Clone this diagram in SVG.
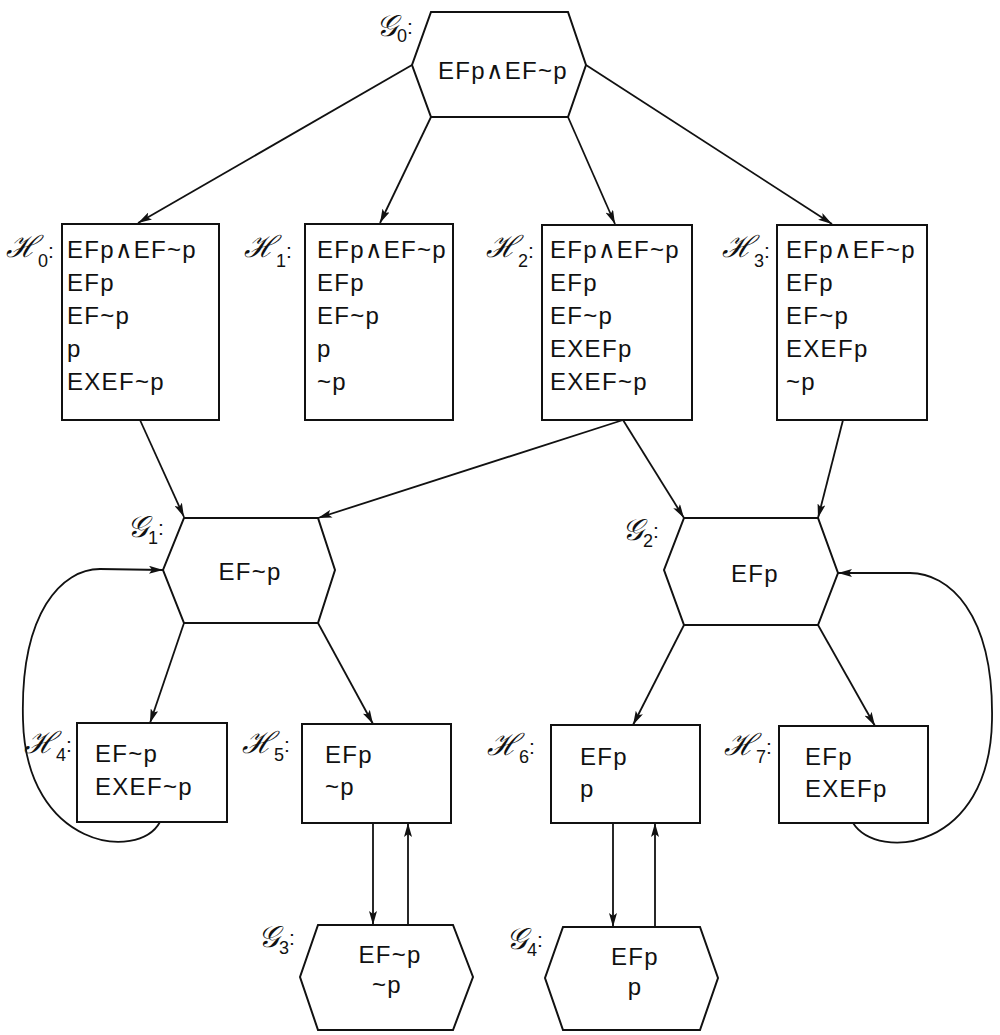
<svg xmlns="http://www.w3.org/2000/svg" width="1000" height="1035" viewBox="0 0 1000 1035">
  <style>
    .shape { fill: #fff; stroke: #111; stroke-width: 2; }
    .edge { fill: none; stroke: #111; stroke-width: 1.8; }
    .t { font-family: "Liberation Sans", "DejaVu Sans", sans-serif; font-size: 24px; fill: #111; letter-spacing: 1.3px; }
    .c { text-anchor: middle; }
    .lab { font-family: "DejaVu Serif", "Liberation Serif", serif; font-style: italic; font-size: 30px; fill: #111; }
    .sub { font-family: "Liberation Sans", sans-serif; font-style: normal; font-size: 18px; }
    .col { font-family: "Liberation Sans", sans-serif; font-style: normal; font-size: 21px; }
  </style>
  <defs>
    <marker id="arr" viewBox="0 0 14 8" refX="14" refY="4" markerWidth="14" markerHeight="8" markerUnits="userSpaceOnUse" orient="auto">
      <path d="M0,0 L14,4 L0,8 L3,4 Z" fill="#111"/>
    </marker>
  </defs>

  <!-- connectors -->
  <g id="edges" class="edges">
    <path class="edge" marker-end="url(#arr)" d="M412,65 L138,223"/>
    <path class="edge" marker-end="url(#arr)" d="M431,117 L380,223"/>
    <path class="edge" marker-end="url(#arr)" d="M568,117 L615,224"/>
    <path class="edge" marker-end="url(#arr)" d="M586,65 L832,224"/>
    <path class="edge" marker-end="url(#arr)" d="M140,420 L184,517"/>
    <path class="edge" marker-end="url(#arr)" d="M623,420 L318,518"/>
    <path class="edge" marker-end="url(#arr)" d="M623,420 L684,518"/>
    <path class="edge" marker-end="url(#arr)" d="M843,420 L818,518"/>
    <path class="edge" marker-end="url(#arr)" d="M184,623 L150,723"/>
    <path class="edge" marker-end="url(#arr)" d="M318,623 L373,724"/>
    <path class="edge" marker-end="url(#arr)" d="M684,625 L633,725"/>
    <path class="edge" marker-end="url(#arr)" d="M818,625 L875,726"/>
    <path class="edge" marker-end="url(#arr)" d="M160,822 C138,862 26,848 23,720 C20,612 62,569 100,569 L163,570"/>
    <path class="edge" marker-end="url(#arr)" d="M853,823 C878,862 990,850 992,720 C994,612 948,573 910,573 L838,573"/>
    <path class="edge" marker-end="url(#arr)" d="M373,823 L373,925"/>
    <path class="edge" marker-end="url(#arr)" d="M408,925 L408,823"/>
    <path class="edge" marker-end="url(#arr)" d="M613,823 L613,927"/>
    <path class="edge" marker-end="url(#arr)" d="M655,927 L655,823"/>
  </g>

  <!-- G0 -->
  <g id="G0">
    <polygon class="shape" points="431,12 568,12 586,65 568,117 431,117 412,65"/>
    <text class="t c" x="503" y="79">EFp∧EF~p</text>
    <text class="lab" x="376" y="36">𝒢<tspan class="sub" dy="6">0</tspan><tspan class="col" dy="-8">:</tspan></text>
  </g>

  <!-- H0 .. H3 -->
  <g id="H0">
    <rect class="shape" x="62" y="224" width="157" height="196"/>
    <text class="t" x="67" y="258">EFp∧EF~p</text>
    <text class="t" x="67" y="291">EFp</text>
    <text class="t" x="67" y="324">EF~p</text>
    <text class="t" x="67" y="357">p</text>
    <text class="t" x="67" y="390">EXEF~p</text>
    <text class="lab" x="6" y="257">ℋ<tspan class="sub" dy="10">0</tspan><tspan class="col" dy="-9">:</tspan></text>
  </g>
  <g id="H1">
    <rect class="shape" x="305" y="224" width="148" height="196"/>
    <text class="t" x="317" y="258">EFp∧EF~p</text>
    <text class="t" x="317" y="291">EFp</text>
    <text class="t" x="317" y="324">EF~p</text>
    <text class="t" x="317" y="357">p</text>
    <text class="t" x="317" y="390">~p</text>
    <text class="lab" x="244" y="257">ℋ<tspan class="sub" dy="10">1</tspan><tspan class="col" dy="-9">:</tspan></text>
  </g>
  <g id="H2">
    <rect class="shape" x="542" y="225" width="150" height="195"/>
    <text class="t" x="550" y="258">EFp∧EF~p</text>
    <text class="t" x="550" y="291">EFp</text>
    <text class="t" x="550" y="324">EF~p</text>
    <text class="t" x="550" y="357">EXEFp</text>
    <text class="t" x="550" y="390">EXEF~p</text>
    <text class="lab" x="486" y="257">ℋ<tspan class="sub" dy="10">2</tspan><tspan class="col" dy="-9">:</tspan></text>
  </g>
  <g id="H3">
    <rect class="shape" x="777" y="225" width="150" height="195"/>
    <text class="t" x="786" y="258">EFp∧EF~p</text>
    <text class="t" x="786" y="291">EFp</text>
    <text class="t" x="786" y="324">EF~p</text>
    <text class="t" x="786" y="357">EXEFp</text>
    <text class="t" x="786" y="390">~p</text>
    <text class="lab" x="722" y="257">ℋ<tspan class="sub" dy="10">3</tspan><tspan class="col" dy="-9">:</tspan></text>
  </g>

  <!-- G1, G2 -->
  <g id="G1">
    <polygon class="shape" points="184,518 318,518 335,570 318,623 184,623 163,570"/>
    <text class="t c" x="250" y="580">EF~p</text>
    <text class="lab" x="127" y="537">𝒢<tspan class="sub" dy="7">1</tspan><tspan class="col" dy="-9">:</tspan></text>
  </g>
  <g id="G2">
    <polygon class="shape" points="684,518 818,518 838,573 818,625 684,625 664,570"/>
    <text class="t c" x="755" y="582">EFp</text>
    <text class="lab" x="622" y="540">𝒢<tspan class="sub" dy="7">2</tspan><tspan class="col" dy="-9">:</tspan></text>
  </g>

  <!-- H4 .. H7 -->
  <g id="H4">
    <rect class="shape" x="77" y="723" width="150" height="99"/>
    <text class="t" x="95" y="762">EF~p</text>
    <text class="t" x="95" y="795">EXEF~p</text>
    <text class="lab" x="24" y="753">ℋ<tspan class="sub" dy="8">4</tspan><tspan class="col" dy="-9">:</tspan></text>
  </g>
  <g id="H5">
    <rect class="shape" x="302" y="724" width="149" height="99"/>
    <text class="t" x="325" y="763">EFp</text>
    <text class="t" x="325" y="795">~p</text>
    <text class="lab" x="242" y="753">ℋ<tspan class="sub" dy="8">5</tspan><tspan class="col" dy="-9">:</tspan></text>
  </g>
  <g id="H6">
    <rect class="shape" x="551" y="725" width="149" height="98"/>
    <text class="t" x="580" y="765">EFp</text>
    <text class="t" x="580" y="797">p</text>
    <text class="lab" x="487" y="755">ℋ<tspan class="sub" dy="8">6</tspan><tspan class="col" dy="-9">:</tspan></text>
  </g>
  <g id="H7">
    <rect class="shape" x="779" y="726" width="149" height="97"/>
    <text class="t" x="805" y="765">EFp</text>
    <text class="t" x="805" y="797">EXEFp</text>
    <text class="lab" x="724" y="755">ℋ<tspan class="sub" dy="8">7</tspan><tspan class="col" dy="-9">:</tspan></text>
  </g>

  <!-- G3, G4 -->
  <g id="G3">
    <polygon class="shape" points="318,925 453,925 473,977 453,1030 318,1030 300,977"/>
    <text class="t c" x="390" y="963">EF~p</text>
    <text class="t c" x="387" y="993">~p</text>
    <text class="lab" x="258" y="947">𝒢<tspan class="sub" dy="7">3</tspan><tspan class="col" dy="-9">:</tspan></text>
  </g>
  <g id="G4">
    <polygon class="shape" points="563,927 700,927 718,978 700,1030 563,1030 545,978"/>
    <text class="t c" x="635" y="965">EFp</text>
    <text class="t c" x="635" y="995">p</text>
    <text class="lab" x="506" y="949">𝒢<tspan class="sub" dy="7">4</tspan><tspan class="col" dy="-9">:</tspan></text>
  </g>
</svg>
